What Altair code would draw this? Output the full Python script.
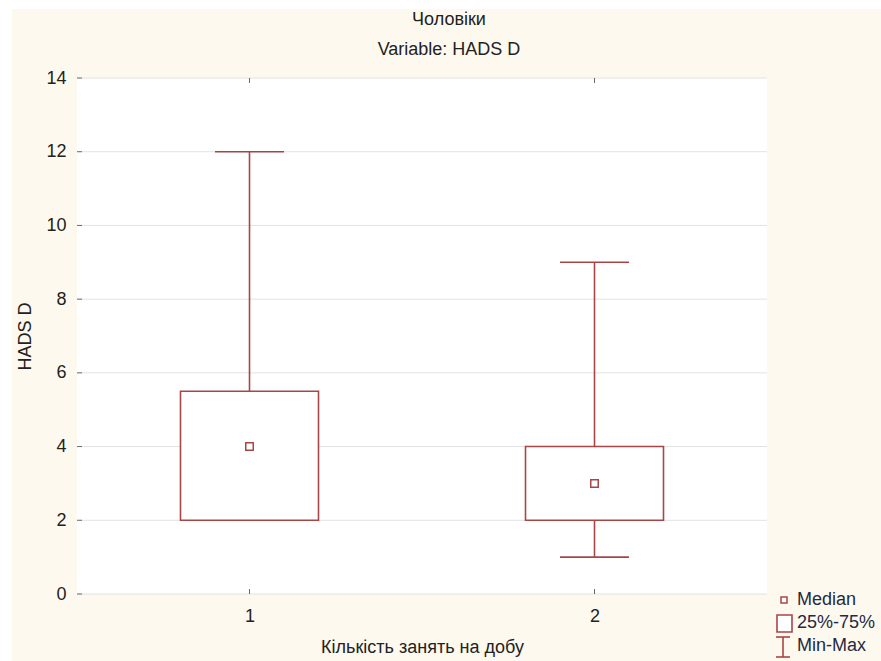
import altair as alt
import pandas as pd

# Summary statistics of HADS D per group
groups = [1, 2]
minimums = [2, 1]
quartile_1 = [2, 2]
medians = [4, 3]
quartile_3 = [5.5, 4]
maximums = [12, 9]

y_ticks = [0, 2, 4, 6, 8, 10, 12, 14]
legend_labels = ["Median", "25%-75%", "Min-Max"]

title_lines = ["Чоловіки", "Variable: HADS D"]
x_title = "Кількість занять на добу"
y_title = "HADS D"

df = pd.DataFrame({
    "group": groups,
    "lo": minimums,
    "q1": quartile_1,
    "med": medians,
    "q3": quartile_3,
    "hi": maximums,
})

W, H = 690, 516
RED = "#a84646"
FRAME = "#6e6e6e"
TEXT = "#222222"
BG = "#fef9ee"
FONT = "Liberation Sans"
FS = 18
BOX_HALF = 0.2
CAP_HALF = 0.1

x_scale = alt.Scale(domain=[0.5, 2.5], nice=False, zero=False)
y_scale = alt.Scale(domain=[0, 14], nice=False, zero=False)

base = alt.Chart(df).transform_calculate(
    b0=f"datum.group - {BOX_HALF}",
    b1=f"datum.group + {BOX_HALF}",
    c0=f"datum.group - {CAP_HALF}",
    c1=f"datum.group + {CAP_HALF}",
)

x_axis = alt.Axis(values=groups, format="d", title=x_title, grid=False, zindex=1,
                  ticks=False, domain=False, labelPadding=13, titlePadding=13)
y_axis = alt.Axis(values=y_ticks, title=y_title, grid=False, zindex=1,
                  ticks=False, domain=False, labelPadding=11, titlePadding=11)

one = pd.DataFrame({"k": [0]})

# page background beyond the white margin
backdrop = alt.Chart(one).mark_rect(color=BG).encode(
    x=alt.value(-65), x2=alt.value(W + 114),
    y=alt.value(-69), y2=alt.value(H + 67),
)
white = alt.Chart(one).mark_rect(color="white").encode(
    x=alt.value(0), x2=alt.value(W), y=alt.value(0), y2=alt.value(H),
)

# axes and light horizontal grid
ytick_df = pd.DataFrame({"t": y_ticks})
grid = alt.Chart(ytick_df).mark_rule(color="#e2e2e2", strokeWidth=1).encode(
    x=alt.value(0), x2=alt.value(W),
    y=alt.Y("t:Q", scale=y_scale, axis=y_axis),
)
axis_holder = base.mark_rect(opacity=0).encode(
    x=alt.X("b0:Q", scale=x_scale, axis=x_axis),
    y=alt.Y("q1:Q", scale=y_scale),
)

# small inward ticks on the frame
y_tick_marks = alt.Chart(ytick_df).mark_rule(color=FRAME, strokeWidth=1).encode(
    x=alt.value(0), x2=alt.value(5),
    y=alt.Y("t:Q", scale=y_scale),
)
top_ticks = base.mark_rule(color=FRAME, strokeWidth=1).encode(
    x=alt.X("group:Q", scale=x_scale), y=alt.value(0), y2=alt.value(5),
)
bottom_ticks = base.mark_rule(color=FRAME, strokeWidth=1).encode(
    x=alt.X("group:Q", scale=x_scale), y=alt.value(H - 5), y2=alt.value(H),
)

whisker_up = base.mark_rule(color=RED, strokeWidth=1.6).encode(
    x=alt.X("group:Q", scale=x_scale), y=alt.Y("q3:Q", scale=y_scale), y2="hi:Q",
)
whisker_down = base.mark_rule(color=RED, strokeWidth=1.6).encode(
    x=alt.X("group:Q", scale=x_scale), y=alt.Y("lo:Q", scale=y_scale), y2="q1:Q",
)
cap_hi = base.mark_rule(color=RED, strokeWidth=1.6).encode(
    x=alt.X("c0:Q", scale=x_scale), x2="c1:Q", y=alt.Y("hi:Q", scale=y_scale),
)
cap_lo = base.mark_rule(color=RED, strokeWidth=1.6).encode(
    x=alt.X("c0:Q", scale=x_scale), x2="c1:Q", y=alt.Y("lo:Q", scale=y_scale),
)
box = base.mark_rect(fill="white", stroke=RED, strokeWidth=1.6).encode(
    x=alt.X("b0:Q", scale=x_scale), x2="b1:Q",
    y=alt.Y("q1:Q", scale=y_scale), y2="q3:Q",
)
median = base.mark_point(shape="square", filled=True, fill="white", stroke=RED,
                         strokeWidth=1.5, size=56, opacity=1).encode(
    x=alt.X("group:Q", scale=x_scale), y=alt.Y("med:Q", scale=y_scale),
)

# two-line heading above the frame
heading = alt.Chart(pd.DataFrame({"line": title_lines, "pos": [-58, -28]})).mark_text(
    align="center", baseline="middle", font=FONT, fontSize=FS, color=TEXT,
).encode(
    x=alt.value(372), y=alt.Y("pos:Q", scale=None), text="line:N",
)

# legend drawn by hand in the lower right corner
lg_median = alt.Chart(one).mark_point(shape="square", filled=True, fill="white",
                                      stroke=RED, strokeWidth=1.5, size=36, opacity=1).encode(
    x=alt.value(707), y=alt.value(522),
)
lg_box = alt.Chart(one).mark_rect(fill="white", stroke=RED, strokeWidth=1.6).encode(
    x=alt.value(700), x2=alt.value(715), y=alt.value(537), y2=alt.value(554),
)
lg_stem = alt.Chart(one).mark_rule(color=RED, strokeWidth=1.6).encode(
    x=alt.value(706), y=alt.value(559), y2=alt.value(579),
)
lg_cap_top = alt.Chart(one).mark_rule(color=RED, strokeWidth=1.6).encode(
    x=alt.value(699), x2=alt.value(713), y=alt.value(559),
)
lg_cap_bot = alt.Chart(one).mark_rule(color=RED, strokeWidth=1.6).encode(
    x=alt.value(699), x2=alt.value(713), y=alt.value(579),
)
lg_text = alt.Chart(pd.DataFrame({"label": legend_labels, "pos": [522, 545, 568]})).mark_text(
    align="left", baseline="middle", font=FONT, fontSize=FS, color="#1f2a44",
).encode(
    x=alt.value(720), y=alt.Y("pos:Q", scale=None), text="label:N",
)

chart = alt.layer(
    backdrop, white, grid, axis_holder, y_tick_marks, top_ticks, bottom_ticks,
    whisker_up, whisker_down, cap_hi, cap_lo, box, median, heading,
    lg_median, lg_box, lg_stem, lg_cap_top, lg_cap_bot, lg_text,
).properties(
    width=W, height=H,
    autosize=alt.AutoSizeParams(type="none"),
    padding={"left": 77, "top": 78, "right": 114, "bottom": 67},
).configure(background="white").configure_view(
    stroke=FRAME, strokeWidth=1.6,
).configure_axis(
    labelFont=FONT, labelFontSize=FS, labelColor=TEXT,
    titleFont=FONT, titleFontSize=FS, titleColor=TEXT, titleFontWeight="normal",
)

chart.save("out.html", embed_options={"renderer": "svg", "actions": False})
